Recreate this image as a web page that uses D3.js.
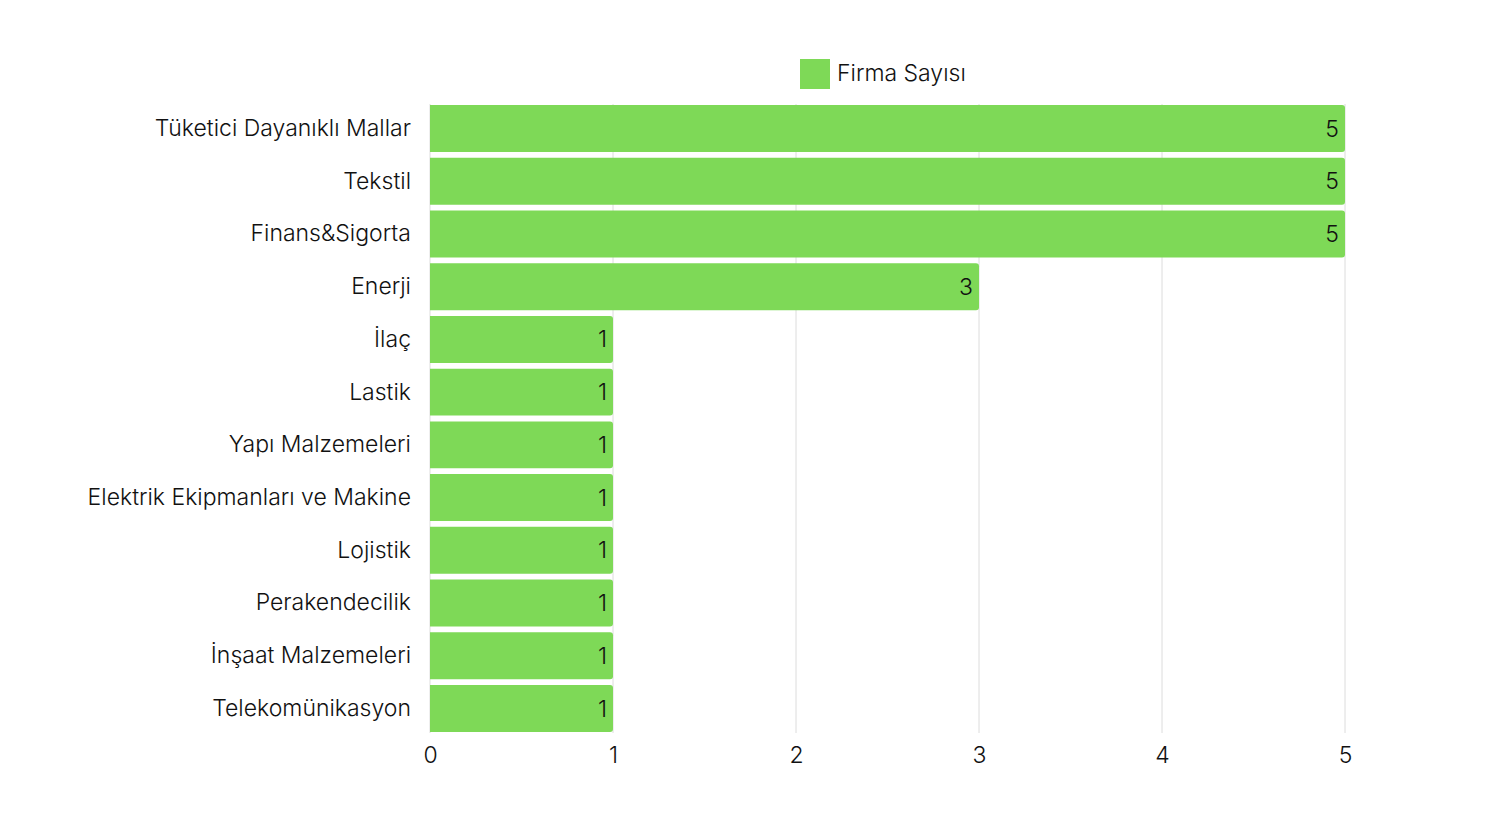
<!DOCTYPE html>
<html>
<head>
<meta charset="utf-8">
<script src="https://cdn.jsdelivr.net/npm/d3@7"></script>
<style>
  body { margin: 0; background: #fff; }
  text { font-family: "Inter", sans-serif; font-weight: 300; fill: #111; }
</style>
</head>
<body>
<div id="chart"></div>
<script>
// Sectors and number of firms
let sectors = ["Tüketici Dayanıklı Mallar", "Tekstil", "Finans&Sigorta", "Enerji", "İlaç", "Lastik",
  "Yapı Malzemeleri", "Elektrik Ekipmanları ve Makine", "Lojistik", "Perakendecilik",
  "İnşaat Malzemeleri", "Telekomünikasyon"];
let firmCounts = [5, 5, 5, 3, 1, 1, 1, 1, 1, 1, 1, 1];
let xTicks = [0, 1, 2, 3, 4, 5];
let seriesName = "Firma Sayısı";

let svgWidth = 1487;
let svgHeight = 837;
let margin = { top: 104, right: 142, bottom: 104, left: 430 };
let width = svgWidth - margin.left - margin.right;
let height = svgHeight - margin.top - margin.bottom;
let barColor = "#7ed957";
let fontSize = "23px";

let svg = d3.select("#chart")
  .append("svg")
  .attr("width", svgWidth)
  .attr("height", svgHeight);

let chartGroup = svg.append("g")
  .attr("transform", `translate(${margin.left}, ${margin.top})`);

// Scales
let xScale = d3.scaleLinear().domain([0, 5]).range([0, width]);
let yScale = d3.scaleBand().domain(sectors).range([0, height]).paddingInner(0.11).paddingOuter(0.02);

// Gridlines
chartGroup.append("g")
  .selectAll("line")
  .data(xTicks)
  .enter()
  .append("line")
  .attr("x1", d => xScale(d))
  .attr("x2", d => xScale(d))
  .attr("y1", 0)
  .attr("y2", height)
  .attr("stroke", "#dcdcdc")
  .attr("stroke-width", 1);

// Bars with rounded right corners
let r = 3;
chartGroup.append("g")
  .selectAll("path")
  .data(sectors)
  .enter()
  .append("path")
  .attr("fill", barColor)
  .attr("d", (d, i) => {
    let x0 = xScale(0), x1 = xScale(firmCounts[i]);
    let y0 = yScale(d), h = yScale.bandwidth();
    return `M${x0},${y0} H${x1 - r} Q${x1},${y0} ${x1},${y0 + r} V${y0 + h - r} Q${x1},${y0 + h} ${x1 - r},${y0 + h} H${x0} Z`;
  });

// Value labels
chartGroup.append("g")
  .selectAll("text")
  .data(sectors)
  .enter()
  .append("text")
  .attr("x", (d, i) => xScale(firmCounts[i]) - 6)
  .attr("y", d => yScale(d) + yScale.bandwidth() / 2)
  .attr("dy", "0.35em")
  .attr("text-anchor", "end")
  .style("font-size", fontSize)
  .text((d, i) => firmCounts[i]);

// Category labels
let yAxis = chartGroup.append("g")
  .call(d3.axisLeft(yScale).tickSize(0).tickPadding(19));
yAxis.select(".domain").remove();
yAxis.selectAll("text").style("font-size", fontSize).style("fill", "#111")
  .style("font-family", "Inter, sans-serif").style("font-weight", 300);

// X axis labels
let xAxis = chartGroup.append("g")
  .attr("transform", `translate(0, ${height})`)
  .call(d3.axisBottom(xScale).tickValues(xTicks).tickFormat(d3.format("d")).tickSize(0).tickPadding(14));
xAxis.select(".domain").remove();
xAxis.selectAll("text").style("font-size", fontSize).style("fill", "#111")
  .style("font-family", "Inter, sans-serif").style("font-weight", 300);

// Legend
let legend = svg.append("g").attr("transform", "translate(800, 59)");
legend.append("rect").attr("width", 30).attr("height", 30).attr("fill", barColor);
legend.append("text")
  .attr("x", 37)
  .attr("y", 14)
  .attr("dy", "0.35em")
  .style("font-size", fontSize)
  .text(seriesName);
</script>
</body>
</html>
